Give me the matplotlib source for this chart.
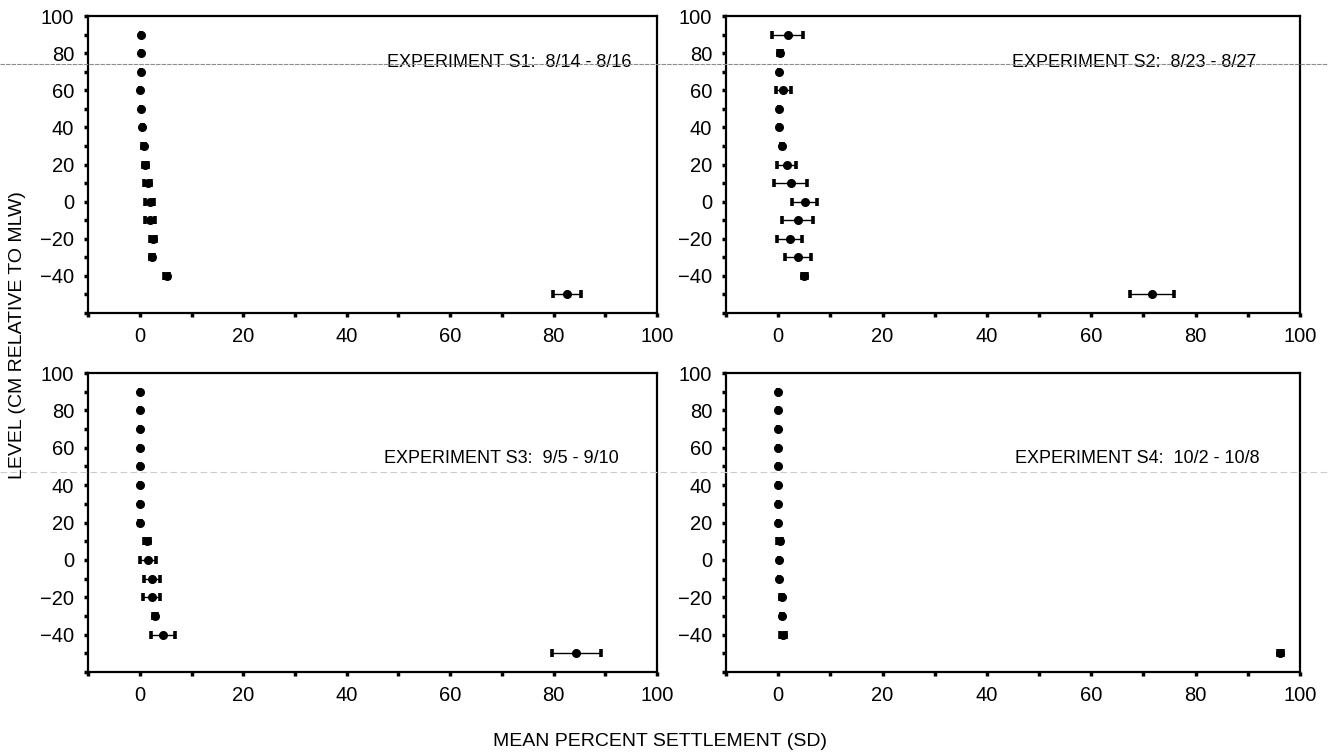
import numpy as np
import matplotlib
matplotlib.use("Agg")
import matplotlib.pyplot as plt
from matplotlib.lines import Line2D
from matplotlib.ticker import MultipleLocator

# ---------- data ----------
levels = [90, 80, 70, 60, 50, 40, 30, 20, 10, 0, -10, -20, -30, -40, -50]

s1_mean = [0.3, 0.3, 0.2, 0.1, 0.3, 0.5, 0.8, 1.1, 1.5, 1.9, 2.0, 2.5, 2.4, 5.2, 82.5]
s1_sd   = [0.0, 0.0, 0.0, 0.0, 0.0, 0.1, 0.3, 0.5, 0.6, 0.8, 1.0, 0.6, 0.4, 0.5, 2.7]

s2_mean = [1.8, 0.3, 0.1, 1.0, 0.1, 0.1, 0.8, 1.6, 2.4, 5.1, 3.7, 2.2, 3.8, 5.0, 71.6]
s2_sd   = [3.0, 0.4, 0.0, 1.5, 0.0, 0.0, 0.2, 1.8, 3.2, 2.4, 3.0, 2.4, 2.5, 0.5, 4.2]

s3_mean = [0.0, 0.0, 0.0, 0.0, 0.0, 0.1, 0.05, 0.0, 1.4, 1.6, 2.4, 2.3, 3.0, 4.5, 84.4]
s3_sd   = [0.0, 0.0, 0.0, 0.0, 0.0, 0.0, 0.0, 0.2, 0.5, 1.5, 1.6, 1.7, 0.4, 2.4, 4.8]

s4_mean = [0.0, 0.0, 0.0, 0.0, 0.0, 0.0, 0.0, 0.0, 0.3, 0.2, 0.2, 0.65, 0.75, 0.9, 96.2]
s4_sd   = [0.0, 0.0, 0.0, 0.0, 0.0, 0.0, 0.0, 0.0, 0.5, 0.0, 0.0, 0.3, 0.2, 0.5, 0.5]

titles = ["EXPERIMENT S1:  8/14 - 8/16", "EXPERIMENT S2:  8/23 - 8/27",
          "EXPERIMENT S3:  9/5 - 9/10", "EXPERIMENT S4:  10/2 - 10/8"]

plt.rcParams['font.family'] = ["Liberation Sans", "DejaVu Sans"]

fig = plt.figure(figsize=(13.28, 7.55), dpi=100)

# axes boxes in figure fractions (left, bottom, width, height)
boxes = [
    (0.0663, 0.5854, 0.4285, 0.3934),
    (0.5467, 0.5854, 0.4322, 0.3934),
    (0.0663, 0.1099, 0.4285, 0.3960),
    (0.5467, 0.1099, 0.4322, 0.3960),
]
text_pos = [(0.525, 0.842), (0.498, 0.842), (0.52, 0.715), (0.503, 0.715)]
series = [(s1_mean, s1_sd), (s2_mean, s2_sd), (s3_mean, s3_sd), (s4_mean, s4_sd)]

for box, (m, sd), title, tp in zip(boxes, series, titles, text_pos):
    ax = fig.add_axes(box)
    ax.errorbar(m, levels, xerr=sd, fmt='o', color='black', ms=5.5,
                elinewidth=1.0, capsize=3.0, capthick=2.6)
    ax.set_xlim(-10, 100)
    ax.set_ylim(-60, 100)
    ax.xaxis.set_minor_locator(MultipleLocator(10))
    ax.yaxis.set_minor_locator(MultipleLocator(10))
    ax.set_xticks([0, 20, 40, 60, 80, 100])
    ax.set_yticks([-40, -20, 0, 20, 40, 60, 80, 100])
    ax.tick_params(which='both', direction='out', length=3, width=2.5,
                   labelsize=14.5, pad=7)
    for sp in ax.spines.values():
        sp.set_linewidth(1.6)
    ax.text(tp[0], tp[1], title, transform=ax.transAxes, ha='left', va='center',
            fontsize=13)

fig.text(18 / 1328, 1 - 335 / 755, "LEVEL (CM RELATIVE TO MLW)", rotation=90,
         ha='center', va='center', fontsize=14)
fig.text(0.497, 1 - 741 / 755, "MEAN PERCENT SETTLEMENT (SD)",
         ha='center', va='center', fontsize=14)

# faint scanner streaks across the page
fig.add_artist(Line2D([0, 1], [1 - 64 / 755] * 2, color='0.55', lw=0.8,
                      ls=(0, (4, 1)), transform=fig.transFigure))
fig.add_artist(Line2D([0, 1], [1 - 472 / 755] * 2, color='0.8', lw=0.8,
                      ls=(0, (6, 3)), transform=fig.transFigure))

fig.savefig("out.png", dpi=100, facecolor='white')
